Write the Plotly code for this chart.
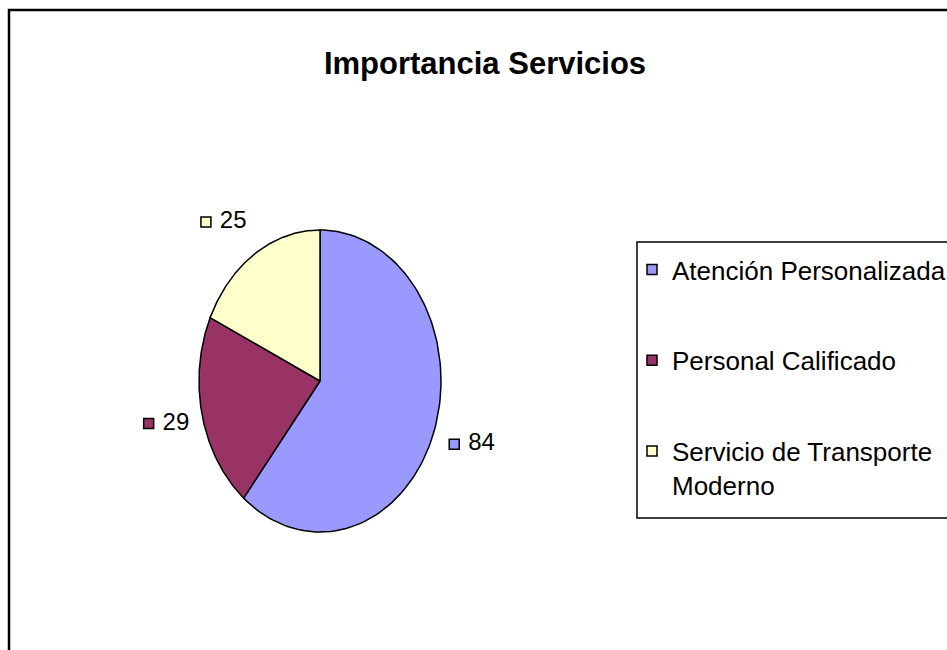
import numpy as np
import plotly.graph_objects as go

categories = ["Atención Personalizada", "Personal Calificado", "Servicio de Transporte<br>Moderno"]
values = [84, 29, 25]
colors = ["#9999FF", "#993366", "#FFFFCC"]

W, H = 947, 650
cx, cy = 320, 381      # pie centre in pixels
rx, ry = 121, 151      # pie radii in pixels (pie is drawn squeezed, like the original)
span = 1.6

font_family = "Liberation Sans, Arial"

fig = go.Figure()

total = sum(values)
start = 90.0
label_x, label_y, label_txt = [], [], []
for cat, val, col in zip(categories, values, colors):
    sweep = val / total * 360.0
    ang = np.radians(np.linspace(start, start - sweep, 120))
    xs = np.concatenate([[0], np.cos(ang), [0]])
    ys = np.concatenate([[0], np.sin(ang), [0]])
    fig.add_trace(go.Scatter(
        x=xs, y=ys, mode="lines", fill="toself", fillcolor=col,
        line=dict(color="black", width=1.5), showlegend=False, hoverinfo="skip",
    ))
    mid = np.radians(start - sweep / 2)
    c, s = np.cos(mid), np.sin(mid)
    lx = c * 1.3 - 14 / rx - (0.15 * abs(s) if c < 0 else 0)
    ly = s * 1.25
    label_x.append(lx)
    label_y.append(ly)
    label_txt.append(" " + str(val))
    start -= sweep

# data labels with their little colour key
fig.add_trace(go.Scatter(
    x=label_x, y=label_y, mode="markers+text", text=label_txt,
    textposition="middle right", cliponaxis=False,
    marker=dict(symbol="square", size=10, color=colors, line=dict(color="black", width=1.5)),
    textfont=dict(family=font_family, size=24, color="black"),
    showlegend=False, hoverinfo="skip",
))

# legend entries
for i, (cat, col) in enumerate(zip(categories, colors)):
    fig.add_trace(go.Scatter(
        x=[None], y=[None], mode="markers", name=cat, legendgroup=str(i),
        marker=dict(symbol="square", size=10, color=col, line=dict(color="black", width=1.5)),
    ))

fig.update_layout(
    width=W, height=H,
    margin=dict(l=0, r=0, t=0, b=0, autoexpand=False),
    paper_bgcolor="white", plot_bgcolor="white",
    title=dict(text="Importancia Servicios", x=485 / W, xanchor="center",
               y=1 - 63 / H, yanchor="middle",
               font=dict(family=font_family, size=31, color="black", weight="bold")),
    xaxis=dict(domain=[(cx - span * rx) / W, (cx + span * rx) / W], range=[-span, span],
               visible=False, fixedrange=True),
    yaxis=dict(domain=[1 - (cy + span * ry) / H, 1 - (cy - span * ry) / H], range=[-span, span],
               visible=False, fixedrange=True),
    legend=dict(x=632 / W, xanchor="left", y=1 - 246 / H, yanchor="top",
                borderwidth=0, bgcolor="rgba(0,0,0,0)",
                font=dict(family=font_family, size=26, color="black"),
                tracegroupgap=54, valign="top", itemwidth=30),
    shapes=[
        dict(type="rect", xref="paper", yref="paper",
             x0=9 / W, x1=1.2, y0=-0.2, y1=1 - 10 / H,
             line=dict(color="black", width=2.5)),
        dict(type="rect", xref="paper", yref="paper",
             x0=637 / W, x1=1.1, y0=1 - 518 / H, y1=1 - 242 / H,
             line=dict(color="black", width=1.5), layer="below"),
    ],
)

fig.write_html("out.html", config={"displayModeBar": False},
               post_script="document.body.style.margin='0';")
